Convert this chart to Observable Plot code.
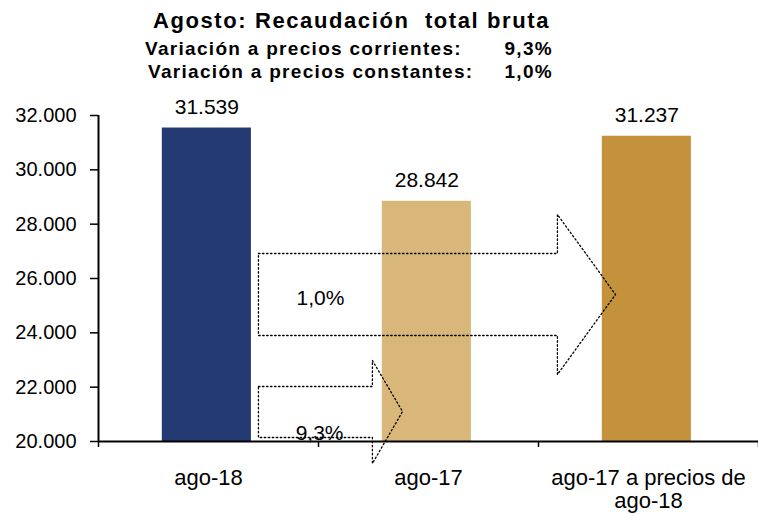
<!DOCTYPE html>
<html>
<head>
<meta charset="utf-8">
<script src="https://cdn.jsdelivr.net/npm/d3@7"></script>
<script src="https://cdn.jsdelivr.net/npm/@observablehq/plot@0.6"></script>
<style>
  html, body { margin: 0; padding: 0; background: #fff; }
  #wrap { width: 758px; height: 514px; position: relative; overflow: hidden; font-family: "Liberation Sans", Arial, sans-serif; color: #000; }
  #head { height: 85px; position: relative; }
  #title { position: absolute; left: 0; width: 703px; top: 8px; text-align: center; font-weight: bold; font-size: 22px; letter-spacing: 1.6px; white-space: pre; line-height: normal; }
  .sub { position: absolute; left: 145px; width: 408px; font-weight: bold; font-size: 19px; letter-spacing: 1.3px; display: flex; justify-content: space-between; line-height: normal; }
  #sub1 { top: 38px; }
  #sub2 { top: 61px; left: 148px; width: 405px; }
</style>
</head>
<body>
<div id="wrap">
  <div id="head">
    <div id="title"></div>
    <div class="sub" id="sub1"><span></span><span></span></div>
    <div class="sub" id="sub2"><span></span><span></span></div>
  </div>
  <div id="chart"></div>
</div>
<script>
const titleText = "Agosto: Recaudación  total bruta";
const subLabels = ["Variación a precios corrientes:", "Variación a precios constantes:"];
const subValues = ["9,3%", "1,0%"];

const categories = ["ago-18", "ago-17", "ago-17 a precios de\nago-18"];
const values = [31539, 28842, 31237];
const colors = ["#233a73", "#d9b77b", "#c4923c"];
const yTicks = [20000, 22000, 24000, 26000, 28000, 30000, 32000];

// Block arrows (in data units: x = category slot, y = value)
const arrowBig = {
  label: "1,0%",
  x: [0.727, 2.086, 2.086, 2.35, 2.086, 2.086, 0.727, 0.727],
  y: [26920, 26920, 28356, 25411, 22466, 23902, 23902, 26920],
  labelX: 1.009, labelY: 25290
};
const arrowSmall = {
  label: "9,3%",
  x: [0.727, 1.245, 1.245, 1.382, 1.245, 1.245, 0.727, 0.727],
  y: [22025, 22025, 22982, 21104, 19190, 20147, 20147, 22025],
  labelX: 1.005, labelY: 20300
};

document.getElementById("title").textContent = titleText;
["sub1", "sub2"].forEach((id, i) => {
  const spans = document.getElementById(id).querySelectorAll("span");
  spans[0].textContent = subLabels[i];
  spans[1].textContent = subValues[i];
});

const locale = d3.formatLocale({decimal: ",", thousands: ".", grouping: [3], currency: ["", ""]});
const fmt = locale.format(",");

const bars = categories.map((c, i) => ({cat: c, i, value: values[i], color: colors[i]}));
const arrows = [arrowBig, arrowSmall];
const arrowPts = arrows.flatMap((a, k) => a.x.map((x, j) => ({k, x, y: a.y[j]})));

const yMin = yTicks[0], yMax = yTicks[yTicks.length - 1];

const chart = Plot.plot({
  width: 758,
  height: 429,
  marginLeft: 98,
  marginRight: 0,
  marginTop: 30,
  marginBottom: 73,
  style: {fontFamily: "'Liberation Sans', Arial, sans-serif", fontSize: "20px", color: "#000", background: "#fff", overflow: "visible"},
  x: {domain: [0, categories.length], axis: null},
  y: {domain: [yMin, yMax], axis: null},
  marks: [
    Plot.rectY(bars, {x1: d => d.i + 0.29, x2: d => d.i + 0.695, y1: yMin, y2: "value", fill: "color"}),
    Plot.text(bars, {x: d => d.i + 0.4925, y: "value", text: d => fmt(d.value), lineAnchor: "bottom", dy: -14, fontSize: 21}),
    Plot.line(arrowPts, {x: "x", y: "y", z: "k", stroke: "#000", strokeWidth: 1.3, strokeDasharray: "1.5,2.5", strokeLinecap: "round"}),
    Plot.text(arrows, {x: "labelX", y: "labelY", text: "label", fontSize: 21}),
    Plot.ruleX([0], {y1: yMin, y2: yMax, stroke: "#000", strokeWidth: 2}),
    Plot.ruleY([yMin], {stroke: "#000", strokeWidth: 2}),
    Plot.axisY({ticks: yTicks, tickSize: 8, tickPadding: 14, tickFormat: fmt, fontSize: 20, stroke: "#000", strokeWidth: 1.5}),
    Plot.axisX({ticks: d3.range(categories.length + 1), tickSize: 6, tickFormat: () => "", stroke: "#000", strokeWidth: 1.5}),
    Plot.axisX({ticks: categories.map((c, i) => i + 0.5), tickSize: 0, tickPadding: 27, tickFormat: (d) => categories[Math.floor(d)], fontSize: 22, lineAnchor: "top", lineHeight: 1.05})
  ]
});
document.getElementById("chart").appendChild(chart);
</script>
</body>
</html>
